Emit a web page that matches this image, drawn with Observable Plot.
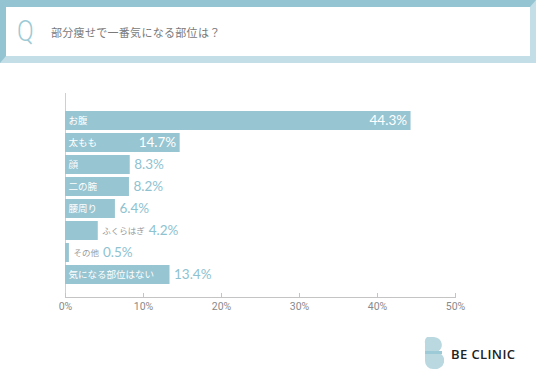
<!DOCTYPE html>
<html><head><meta charset="utf-8">
<script src="https://cdn.jsdelivr.net/npm/d3@7"></script>
<script src="https://cdn.jsdelivr.net/npm/@observablehq/plot@0.6"></script>
<style>
html,body{margin:0;padding:0;background:#fff;width:536px;height:383px;overflow:hidden;position:relative;font-family:"Noto Sans CJK JP","Noto Sans",sans-serif;}
#hdr{position:absolute;left:0;top:0;width:536px;height:63px;box-sizing:border-box;border-top:7px solid #94c4d1;border-left:6px solid #94c4d1;border-right:6px solid #c3dee6;border-bottom:7px solid #c3dee6;background:#fff;}
#q{position:absolute;left:11px;top:10px;font-family:Roboto,"Open Sans",sans-serif;font-weight:300;font-size:29px;color:#9ccad6;line-height:1;transform:scaleX(0.85);transform-origin:left top;}
#ttl{position:absolute;left:45px;top:17px;font-size:11px;color:#7a7a7a;letter-spacing:0.3px;}
#chart{position:absolute;left:0;top:64px;}
#logo{position:absolute;left:424px;top:337px;}
#logotxt{position:absolute;left:451px;top:345px;font-family:"Open Sans","Noto Sans",sans-serif;font-weight:600;font-size:13px;color:#222;letter-spacing:0.4px;}
</style></head>
<body>
<div id="hdr"><div id="q">Q</div><div id="ttl">部分痩せで一番気になる部位は？</div></div>
<div id="chart"></div>
<svg id="logo" width="20" height="32" viewBox="0 0 20 32">
  <path d="M3,0 H10 A9,8 0 0 1 13,15 A9,8.5 0 0 1 9,32 H9 A8,8 0 0 1 1,24 V6 A6,6 0 0 1 3,0 Z" fill="#bad8e0"/>
  <rect x="1" y="14" width="17" height="3" fill="#9ccad6"/>
</svg>
<div id="logotxt">BE CLINIC</div>
<script>
const categories = ["お腹","太もも","顔","二の腕","腰周り","ふくらはぎ","その他","気になる部位はない"];
const values = [44.3, 14.7, 8.3, 8.2, 6.4, 4.2, 0.5, 13.4];
const tickValues = [0, 10, 20, 30, 40, 50];

const W = 536, H = 319;
const mL = 65, mR = 81, mT = 29, mB = 86;
const pxPer = (W - mL - mR) / 50;

const labelFont = '9.5px "Noto Sans CJK JP"';
const outLabelFont = '8.5px "Noto Sans CJK JP"';
const valueFont = '13.5px Lato, Roboto, sans-serif';
const cv = document.createElement("canvas").getContext("2d");
function tw(s, f){ cv.font = f; return cv.measureText(s).width; }

const data = categories.map((c, i) => {
  const v = values[i];
  const bw = v * pxPer;
  const lw = tw(c, labelFont);
  const vs = v.toFixed(1) + "%";
  const vw = tw(vs, valueFont);
  const labelIn = bw >= lw + 6;
  const valueIn = labelIn && (bw - lw - vw) > 30;
  return {c, v, vs, labelIn, valueIn, valueDx: labelIn ? 4 : 4 + tw(c, outLabelFont) + 4};
});

const valueText = {fontSize: 13.5, fontWeight: 400, fontFamily: "Lato, Roboto, sans-serif"};

const chart = Plot.plot({
  width: W, height: H,
  marginLeft: mL, marginRight: mR, marginTop: mT, marginBottom: mB,
  x: {domain: [0, 50]},
  y: {domain: categories, padding: 0.14, insetTop: 12.8, insetBottom: 7.2, axis: null},
  style: {background: "transparent"},
  marks: [
    Plot.ruleX([0], {stroke: "#cfcfcf", strokeWidth: 1}),
    Plot.frame({anchor: "bottom", stroke: "#c4c4c4"}),
    Plot.ruleX(tickValues, {x: d => d, insetTop: 204 - 4, stroke: "#c4c4c4"}),
    Plot.axisX({ticks: tickValues, tickSize: 0, tickPadding: 5, tickFormat: d => d + "%", fontSize: 10.5, color: "#8a8a8a", fontFamily: "Roboto, sans-serif", label: null}),
    Plot.barX(data, {x: "v", y: "c", fill: "#97c5d2"}),
    Plot.text(data.filter(d => d.labelIn), {x: 0, y: "c", text: "c", textAnchor: "start", dx: 3, fill: "#fff", fontSize: 9.5, fontFamily: "Noto Sans CJK JP"}),
    Plot.text(data.filter(d => !d.labelIn), {x: "v", y: "c", text: "c", textAnchor: "start", dx: 4, fill: "#9a9a9a", fontSize: 8.5, fontFamily: "Noto Sans CJK JP"}),
    Plot.text(data.filter(d => d.valueIn), {x: "v", y: "c", text: "vs", textAnchor: "end", dx: -4, fill: "#fff", ...valueText}),
    ...data.filter(d => !d.valueIn).map(d =>
      Plot.text([d], {x: "v", y: "c", text: "vs", textAnchor: "start", dx: d.valueDx, fill: "#8ec2d0", ...valueText}))
  ]
});
document.getElementById("chart").appendChild(chart);
</script>
</body></html>
